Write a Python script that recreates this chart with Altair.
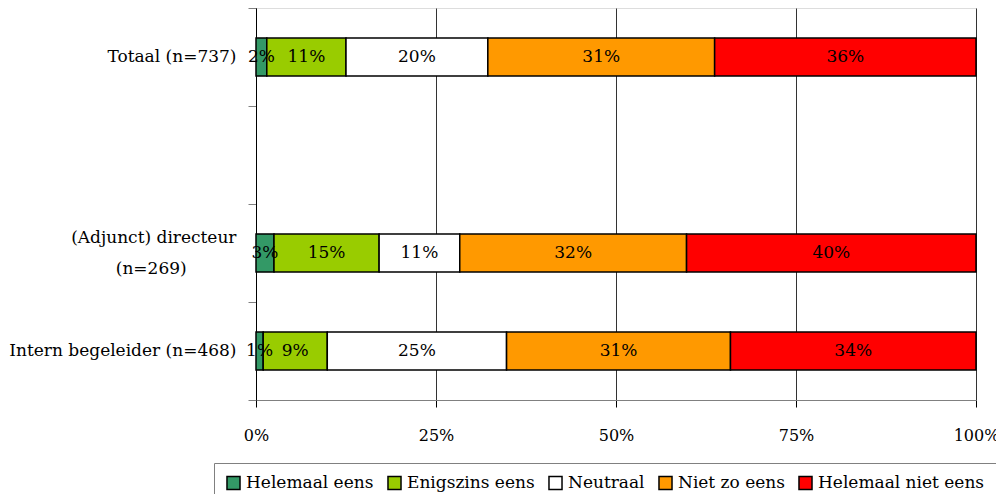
import altair as alt
import pandas as pd

BLANK = "\u2800"
PADBLANK = BLANK * 4
categories = ["Totaal (n=737)", " ", "(Adjunct) directeur|" + BLANK + "|(n=269)" + PADBLANK,
              "Intern begeleider (n=468)"]
groups = [categories[0], categories[2], categories[3]]
answers = ["Helemaal eens", "Enigszins eens", "Neutraal", "Niet zo eens", "Helemaal niet eens"]
colors = ["#339966", "#99CC00", "#FFFFFF", "#FF9900", "#FF0000"]

values = [
    [1.5, 11.0, 19.7, 31.5, 36.3],
    [2.5, 14.6, 11.2, 31.5, 40.2],
    [1.0, 8.9, 24.9, 31.1, 34.1],
]
labels = [
    ["2%", "11%", "20%", "31%", "36%"],
    ["3%", "15%", "11%", "32%", "40%"],
    ["1%", "9%", "25%", "31%", "34%"],
]

rows = []
for gi, g in enumerate(groups):
    for i, a in enumerate(answers):
        rows.append({"group": g, "answer": a, "order": i,
                     "value": values[gi][i], "label": labels[gi][i]})
df = pd.DataFrame(rows)

FONT = "DejaVu Serif"
FS = 17

label_expr = ("indexof(datum.label, '|') >= 0 ? split(datum.label, '|') : ['" + BLANK +
              "', datum.label]")

yscale = alt.Scale(domain=categories, paddingInner=0, paddingOuter=0)
y_enc = alt.Y("group:N", scale=yscale, title=None,
              axis=alt.Axis(tickBand="extent", labelExpr=label_expr,
                            labelFont=FONT, labelFontSize=FS, labelColor="black",
                            labelLineHeight=15.5, labelOffset=-16,
                            labelPadding=12, tickSize=8, labelLimit=400,
                            tickColor="#808080", domainColor="black", grid=False))

base = alt.Chart(df)

bars = base.mark_bar(stroke="black", strokeWidth=1.5, height=alt.RelativeBandSize(0.39)).encode(
    x=alt.X("value:Q", stack="normalize", title=None,
            scale=alt.Scale(domain=[0, 1]),
            axis=alt.Axis(format=".0%", values=[0, 0.25, 0.5, 0.75, 1], labelFont=FONT,
                          labelFontSize=16, labelColor="black", labelPadding=20,
                          labelFlush=False,
                          tickSize=7, tickColor="black", domainColor="#808080",
                          grid=True, gridColor="#333333", gridWidth=1)),
    y=y_enc,
    color=alt.Color("answer:N", scale=alt.Scale(domain=answers, range=colors),
                    legend=alt.Legend(title=None, orient="none", direction="horizontal",
                                      columns=5, legendX=-42, legendY=455,
                                      symbolType="square", symbolSize=170,
                                      symbolStrokeColor="black", symbolStrokeWidth=1.5,
                                      labelFont=FONT, labelFontSize=FS, labelColor="black",
                                      columnPadding=10, strokeColor="#808080",
                                      padding=11, labelOffset=4, labelLimit=400)),
    order=alt.Order("order:Q"),
)

text = base.mark_text(font=FONT, fontSize=FS, color="black").encode(
    x=alt.X("value:Q", stack="normalize", bandPosition=0.5),
    y=alt.Y("group:N", scale=yscale),
    text="label:N",
    order=alt.Order("order:Q"),
)

chart = alt.layer(bars, text).properties(
    width=720, height=392,
    autosize=alt.AutoSizeParams(type="none"),
    padding={"left": 248, "top": 0, "right": 20, "bottom": 94},
).configure_view(stroke="#808080", strokeWidth=1.5).configure(background="white")

chart.save("out.html", embed_options={"renderer": "svg", "actions": False})
